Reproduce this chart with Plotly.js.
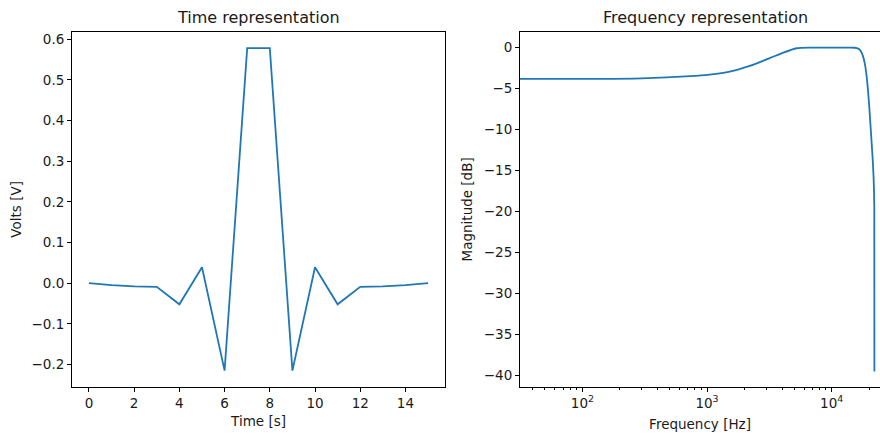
<!DOCTYPE html>
<html>
<head>
<meta charset="utf-8">
<script src="https://cdn.plot.ly/plotly-3.0.1.min.js"></script>
<style>
html,body{margin:0;padding:0;background:#fff;overflow:hidden;}
#chart{width:880px;height:436px;}
</style>
</head>
<body>
<div id="chart"></div>
<script>
// Time-domain filter taps
const timeSeconds = [0, 1, 2, 3, 4, 5, 6, 7, 8, 9, 10, 11, 12, 13, 14, 15];
const voltsValues = [0.0, -0.005, -0.008, -0.009, -0.052, 0.039, -0.215, 0.578, 0.578, -0.215, 0.039, -0.052, -0.009, -0.008, -0.005, 0.0];

// Frequency response
const freqHz = [30, 100, 300, 730, 1050, 1520, 2200, 3180, 4090, 5240, 6700, 10000, 14000, 15300, 16300, 16900, 17600, 18400, 19000, 19600, 20100, 20700, 21300, 21700, 21964, 22007];
const magnitudeDb = [-3.82, -3.82, -3.75, -3.49, -3.29, -2.93, -2.23, -1.29, -0.61, -0.08, 0.0, 0.0, 0.0, -0.02, -0.12, -0.3, -0.8, -1.9, -3.3, -5.4, -7.6, -10.6, -13.5, -16.0, -19.4, -39.5];

// Tick labels
const timeTicks = [0, 2, 4, 6, 8, 10, 12, 14];
const freqTickVals = [100, 1000, 10000];
const freqTickText = ['10<sup>2</sup>', '10<sup>3</sup>', '10<sup>4</sup>'];
const freqMinorTicks = [30, 40, 50, 60, 70, 80, 90, 200, 300, 400, 500, 600, 700, 800, 900, 2000, 3000, 4000, 5000, 6000, 7000, 8000, 9000, 20000];
const dbTicks = [0, -5, -10, -15, -20, -25, -30, -35, -40];

const W = 880, H = 436;
const font = {family: 'DejaVu Sans, sans-serif', size: 13.5, color: '#1a1a1a'};
const titleFont = {family: 'DejaVu Sans, sans-serif', size: 16, color: '#1a1a1a'};
const lineColor = '#1f77b4';

const traces = [
  {x: timeSeconds, y: voltsValues, type: 'scatter', mode: 'lines',
   line: {color: lineColor, width: 1.8}, xaxis: 'x', yaxis: 'y', hoverinfo: 'skip'},
  {x: freqHz, y: magnitudeDb, type: 'scatter', mode: 'lines',
   line: {color: lineColor, width: 1.8, shape: 'spline', smoothing: 0.6},
   xaxis: 'x2', yaxis: 'y2', hoverinfo: 'skip'}
];

const yDom = [1 - 386.7 / H, 1 - 32 / H];
const axCommon = {
  showgrid: false, zeroline: false, showline: true, linecolor: '#000', linewidth: 1,
  ticks: 'outside', ticklen: 4, tickwidth: 1, tickcolor: '#000',
  tickfont: font
};

const layout = {
  width: W, height: H,
  margin: {l: 0, r: 0, t: 0, b: 0},
  paper_bgcolor: '#fff', plot_bgcolor: '#fff',
  showlegend: false,
  font: font,
  xaxis: Object.assign({}, axCommon, {
    domain: [72 / W, 445 / W], range: [-0.75, 15.75],
    tickvals: timeTicks, mirror: true, anchor: 'y',
    title: {text: 'Time [s]', font: font, standoff: 6}
  }),
  yaxis: Object.assign({}, axCommon, {
    domain: yDom, range: [-0.2545, 0.6175], dtick: 0.1, tick0: 0, tickformat: '.1f',
    mirror: true, anchor: 'x',
    title: {text: 'Volts [V]', font: font, standoff: 6}
  }),
  xaxis2: Object.assign({}, axCommon, {
    domain: [520 / W, 1], type: 'log', range: [1.4995, 4.3875],
    tickvals: freqTickVals, ticktext: freqTickText, mirror: true, anchor: 'y2',
    minor: {tickvals: freqMinorTicks, ticks: 'outside', ticklen: 2, tickwidth: 1, tickcolor: '#000', showgrid: false},
    title: {text: 'Frequency [Hz]', font: font, standoff: 9}
  }),
  yaxis2: Object.assign({}, axCommon, {
    domain: yDom, range: [-41.35, 1.9], tickvals: dbTicks,
    mirror: false, anchor: 'x2',
    title: {text: 'Magnitude [dB]', font: font, standoff: 8}
  }),
  annotations: [
    {text: 'Time representation', xref: 'paper', yref: 'paper',
     x: (72 + 445) / 2 / W, y: 1 - 18 / H, xanchor: 'center', yanchor: 'middle',
     showarrow: false, font: titleFont},
    {text: 'Frequency representation', xref: 'paper', yref: 'paper',
     x: (520 + 891) / 2 / W, y: 1 - 18 / H, xanchor: 'center', yanchor: 'middle',
     showarrow: false, font: titleFont}
  ]
};

Plotly.newPlot('chart', traces, layout, {staticPlot: true, displayModeBar: false});
</script>
</body>
</html>
